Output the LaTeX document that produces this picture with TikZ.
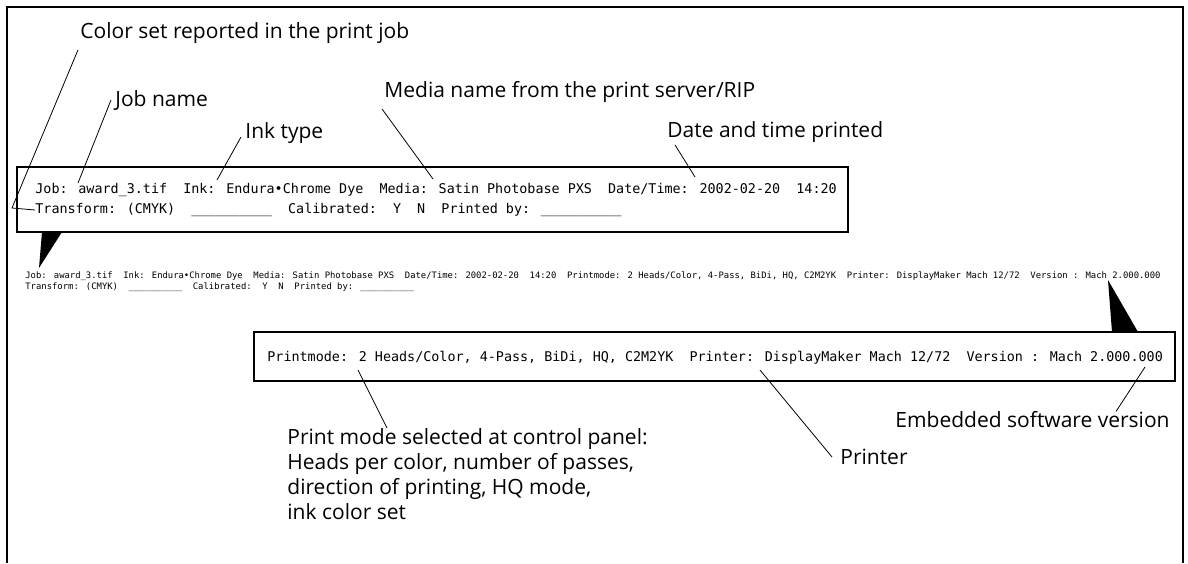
\documentclass[tikz,border=0pt]{standalone}
\usepackage{fontspec}
\setmainfont{Open Sans}
\newfontfamily\recfont{DejaVu Sans Mono}
\usetikzlibrary{positioning}

% record texts as printed on the sheet
\newcommand\blank{\_\_\_\_\_\_\_\_\_\_}
\newcommand\jobtxt{Job: award\_3.tif~~Ink: Endura•Chrome Dye~~Media: Satin Photobase PXS~~Date/Time: 2002-02-20~~14:20}
\newcommand\tfmtxt{Transform: (CMYK)~~\blank~~Calibrated:~~Y~~N~~Printed by: \blank}
\newcommand\modetxt{Printmode: 2 Heads/Color, 4-Pass, BiDi, HQ, C2M2YK~~Printer: DisplayMaker Mach 12/72~~Version : Mach 2.000.000}

\begin{document}
\begin{tikzpicture}[
    x=0.5pt, y=-0.5pt,
    callout/.style={inner sep=0pt, anchor=west,
                    font=\fontsize{10.5}{12.5}\selectfont},
    recline/.style={inner sep=0pt, anchor=west,
                    font=\recfont\fontsize{6.7}{8}\selectfont},
    tinyline/.style={inner sep=0pt, anchor=west,
                     font=\recfont\fontsize{4.44}{5}\selectfont},
    recbox/.style={draw, line width=0.6pt},
    frame/.style={line width=1.2pt},
    leader/.style={line width=0.4pt}
]
    \useasboundingbox (0,0) rectangle (1188,563);
    \draw[frame] (7,563) -- (7,7) -- (1183,7) -- (1183,563);

    % enlarged first part of the record
    \draw[recbox] (17,167) rectangle (848,232);
    \node[recline] (job1) at (35,190) {\jobtxt};
    \node[recline] (tfm1) at (35,210) {\tfmtxt};

    % record at real size
    \node[tinyline] (job2) at (25,276) {\jobtxt~~\modetxt};
    \node[tinyline] (tfm2) at (25,287) {\tfmtxt};
    \fill (42,232) -- (62,232) -- (39,268) -- cycle;
    \fill (1108,280) -- (1112,332) -- (1138,332) -- cycle;

    % enlarged second part of the record
    \draw[recbox] (254,332) rectangle (1175,381);
    \node[recline] (mode1) at (267,358) {\modetxt};

    % callouts
    \node[callout] (colorlbl) at (80,33) {Color set reported in the print job};
    \node[callout] (joblbl) at (115,100) {Job name};
    \node[callout] (inklbl) at (245,133) {Ink type};
    \node[callout] (medialbl) at (384,92) {Media name from the print server/RIP};
    \node[callout] (datelbl) at (667,132) {Date and time printed};
    \node[callout, anchor=north west, align=left] (modelbl) at (287,428)
        {Print mode selected at control panel:\\Heads per color, number of passes,\\
         direction of printing, HQ mode,\\ink color set};
    \node[callout] (printerlbl) at (840,457) {Printer};
    \node[callout, anchor=east] (embedlbl) at (1170,420) {Embedded software version};

    \coordinate (cbend) at (12,208);
    \coordinate (pjob) at (78,183);
    \coordinate (pink) at (217,180);
    \coordinate (pmedia) at (433,179);
    \coordinate (pdate) at (695,177);
    \coordinate (pmode) at (358,370);
    \coordinate (pprinter) at (760,370);
    \coordinate (pversion) at (1145,367);

    \draw[leader] ([shift={(-1pt,-3pt)}]colorlbl.south west) -- (cbend) -- (tfm1.west);
    \draw[leader] ([xshift=-2pt]joblbl.west) -- (pjob);
    \draw[leader] ([shift={(-2pt,-2pt)}]inklbl.west) -- (pink);
    \draw[leader] ([shift={(-1pt,-3pt)}]medialbl.south west) -- (pmedia);
    \draw[leader] ([shift={(4pt,-1pt)}]datelbl.south west) -- (pdate);
    \draw[leader] (pmode) -- ([xshift=50pt]modelbl.north west);
    \draw[leader] (pprinter) -- ([xshift=-4pt]printerlbl.west);
    \draw[leader] (pversion) -- ([xshift=-27pt]embedlbl.north east);
\end{tikzpicture}
\end{document}
